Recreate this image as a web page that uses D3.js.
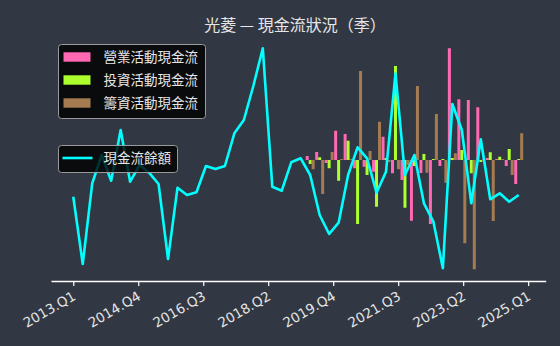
<!DOCTYPE html>
<html>
<head>
<meta charset="utf-8">
<script src="https://cdn.jsdelivr.net/npm/d3@7"></script>
<style>
  html, body { margin: 0; padding: 0; background: #323843; }
  svg { display: block; font-family: "Noto Sans CJK TC", "Noto Sans", sans-serif; }
</style>
</head>
<body>
<svg id="chart" width="560" height="346"></svg>
<script>
const titulo = "光菱 — 現金流狀況（季）";
const series = ["營業活動現金流", "投資活動現金流", "籌資活動現金流"];
const lineName = "現金流餘額";
const colors = ["#ff69b4", "#adff2f", "#a57c52"];
const lineColor = "#00ffff";

// quarter index 0 = 2013.Q1
const tickLabels = ["2013.Q1", "2014.Q4", "2016.Q3", "2018.Q2", "2019.Q4", "2021.Q3", "2023.Q2", "2025.Q1"];

// 現金流餘額, 2013.Q1 .. 2024.Q4
const balance = [
    843, 170, 977, 1260, 1003, 1510, 993, 1160, 1083, 970,
    220, 933, 860, 887, 1150, 1120, 1150, 1477, 1610, 1950,
    2327, 943, 903, 1187, 1227, 1060, 660, 470, 583, 1060,
    1337, 1227, 883, 1093, 2077, 1060, 1260, 777, 593, 127,
    1770, 1510, 777, 1417, 817, 877, 793, 860
];

// bars only from 2019.Q2 (index 25) on
const barStart = 25;
const operating = [16, 32, -12, 117, 104, -33, -27, -47, 93, -53, -80, -243, -52, -256, -24, 447, 243, 240, 211, 8, 4, -24, -96];
const investing = [-16, 11, -33, -83, 77, -256, -60, -187, 8, 376, -191, -24, 24, 4, 4, 8, 40, -53, -8, 31, 13, 44, 4];
const financing = [-37, -136, 32, 4, 4, 356, 36, 153, -8, -37, -20, 296, -51, 184, -91, 27, -333, -437, 4, -244, 4, -60, 107];

const width = 560, height = 346;
const svg = d3.select("#chart");
svg.append("rect").attr("width", width).attr("height", height).attr("fill", "#323843");

const x = d3.scaleLinear().domain([-2.35, 49.85]).range([51, 545.7]);
const barY = d3.scaleLinear().domain([-480, 480]).range([280, 40]);
const lineY = d3.scaleLinear().domain([0, 2440]).range([281, 37]);

// bars
const bw = 0.315;
const groups = [operating, investing, financing];
groups.forEach((vals, s) => {
    svg.append("g").selectAll("rect")
        .data(vals)
        .join("rect")
        .attr("x", (d, i) => x(barStart + i + (s - 1) * bw - bw / 2))
        .attr("width", x(bw) - x(0))
        .attr("y", d => barY(Math.max(0, d)))
        .attr("height", d => Math.abs(barY(d) - barY(0)))
        .attr("fill", colors[s]);
});

// line
const line = d3.line()
    .x((d, i) => x(i))
    .y(d => lineY(d));
svg.append("path")
    .datum(balance)
    .attr("d", line)
    .attr("fill", "none")
    .attr("stroke", lineColor)
    .attr("stroke-width", 2.6)
    .attr("stroke-linejoin", "round");

// x axis
const tickPos = tickLabels.map((t, k) => k * 48 / 7);
const xAxis = d3.axisBottom(x)
    .tickValues(tickPos)
    .tickFormat((d, k) => tickLabels[k])
    .tickSize(5)
    .tickSizeOuter(0);
const ax = svg.append("g")
    .attr("transform", "translate(0,281)")
    .call(xAxis);
ax.select(".domain").attr("stroke", "#ffffff").attr("stroke-width", 1.5);
ax.selectAll(".tick line").attr("stroke", "#ffffff").attr("stroke-width", 1.2);
ax.selectAll(".tick text")
    .attr("fill", "#e6e6e6")
    .style("font-family", "'DejaVu Sans', sans-serif")
    .style("font-size", "13.5px")
    .attr("text-anchor", "end")
    .attr("dy", null)
    .attr("y", 0)
    .attr("transform", "translate(3,18) rotate(-30)");

// title
svg.append("text")
    .attr("x", 295).attr("y", 31)
    .attr("text-anchor", "middle")
    .attr("fill", "#e6e6e6")
    .attr("font-size", 16)
    .text(titulo);

// legend 1
const leg1 = svg.append("g");
leg1.append("rect")
    .attr("x", 58.5).attr("y", 44.5).attr("width", 147).attr("height", 74)
    .attr("rx", 3)
    .attr("fill", "#000000").attr("fill-opacity", 0.8)
    .attr("stroke", "#9a9a9a").attr("stroke-width", 1);
series.forEach((name, s) => {
    const cy = 57 + s * 23;
    leg1.append("rect")
        .attr("x", 63.5).attr("y", cy - 4.7).attr("width", 27).attr("height", 9.4)
        .attr("fill", colors[s]);
    leg1.append("text")
        .attr("x", 103.5).attr("y", cy + 5)
        .attr("fill", "#e6e6e6")
        .attr("font-size", 13.5)
        .text(name);
});

// legend 2
const leg2 = svg.append("g");
leg2.append("rect")
    .attr("x", 58.5).attr("y", 145.5).attr("width", 119).attr("height", 27)
    .attr("rx", 3)
    .attr("fill", "#000000").attr("fill-opacity", 0.8)
    .attr("stroke", "#9a9a9a").attr("stroke-width", 1);
leg2.append("line")
    .attr("x1", 62.5).attr("x2", 92.5).attr("y1", 158).attr("y2", 158)
    .attr("stroke", lineColor).attr("stroke-width", 2.6);
leg2.append("text")
    .attr("x", 103.5).attr("y", 163)
    .attr("fill", "#e6e6e6")
    .attr("font-size", 13.5)
    .text(lineName);
</script>
</body>
</html>
